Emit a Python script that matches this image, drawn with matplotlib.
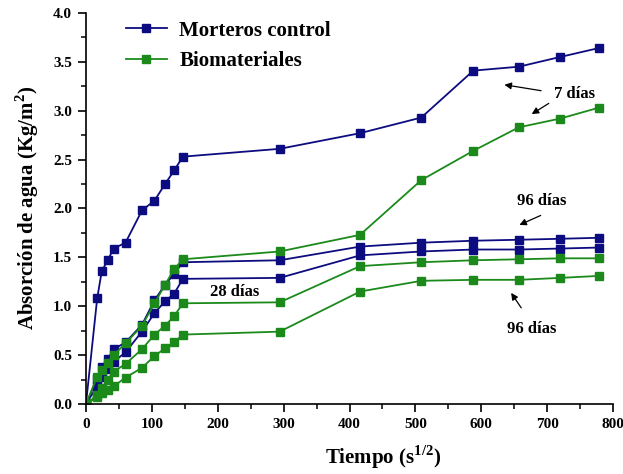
import matplotlib
matplotlib.use("Agg")
import matplotlib.pyplot as plt
from matplotlib.ticker import MultipleLocator, FormatStrFormatter

plt.rcParams["mathtext.fontset"] = "custom"
plt.rcParams["mathtext.rm"] = "Liberation Serif"
plt.rcParams["mathtext.bf"] = "Liberation Serif:bold"

# Square root of elapsed time (s^1/2)
tiempo = [0, 17, 24, 33, 42, 60, 85, 104, 120, 134, 147, 294, 416, 509, 588, 657, 720, 778]

# Water absorption (kg/m2), control mortars
mortero_7d = [0, 1.08, 1.36, 1.47, 1.59, 1.65, 1.98, 2.08, 2.25, 2.39, 2.53, 2.61, 2.77, 2.93, 3.41, 3.45, 3.55, 3.64]
mortero_96d = [0, 0.26, 0.38, 0.46, 0.56, 0.63, 0.81, 1.06, 1.22, 1.33, 1.45, 1.47, 1.61, 1.65, 1.67, 1.68, 1.69, 1.70]
mortero_28d = [0, 0.18, 0.28, 0.36, 0.43, 0.53, 0.74, 0.93, 1.05, 1.13, 1.28, 1.29, 1.52, 1.56, 1.58, 1.58, 1.59, 1.60]

# Water absorption (kg/m2), biomaterial mortars
bio_7d = [0, 0.28, 0.35, 0.42, 0.50, 0.62, 0.80, 1.03, 1.22, 1.38, 1.48, 1.56, 1.73, 2.29, 2.59, 2.83, 2.92, 3.03]
bio_28d = [0, 0.09, 0.16, 0.25, 0.33, 0.41, 0.56, 0.71, 0.80, 0.90, 1.03, 1.04, 1.41, 1.45, 1.47, 1.48, 1.49, 1.49]
bio_96d = [0, 0.07, 0.11, 0.14, 0.18, 0.27, 0.37, 0.49, 0.57, 0.63, 0.71, 0.74, 1.15, 1.26, 1.27, 1.27, 1.29, 1.31]

AZUL = "#0c0c80"
VERDE = "#1b8a1b"
serif = ["Liberation Serif", "DejaVu Serif"]

fig = plt.figure(figsize=(6.23, 4.74), dpi=100)
ax = fig.add_axes([0.138, 0.1477, 0.846, 0.825])

estilo = dict(marker="s", markersize=6, linewidth=1.3)
ax.plot(tiempo, mortero_7d, color=AZUL, label="Morteros control", **estilo)
ax.plot(tiempo, mortero_96d, color=AZUL, **estilo)
ax.plot(tiempo, mortero_28d, color=AZUL, **estilo)
ax.plot(tiempo, bio_7d, color=VERDE, label="Biomateriales", **estilo)
ax.plot(tiempo, bio_28d, color=VERDE, **estilo)
ax.plot(tiempo, bio_96d, color=VERDE, **estilo)

ax.set_xlim(0, 800)
ax.set_ylim(0, 4.0)
ax.xaxis.set_major_locator(MultipleLocator(100))
ax.xaxis.set_minor_locator(MultipleLocator(50))
ax.yaxis.set_major_locator(MultipleLocator(0.5))
ax.yaxis.set_minor_locator(MultipleLocator(0.25))
ax.yaxis.set_major_formatter(FormatStrFormatter("%.1f"))

for s in ("top", "right"):
    ax.spines[s].set_visible(False)
for s in ("left", "bottom"):
    ax.spines[s].set_linewidth(1.2)

ax.tick_params(which="major", direction="out", length=6, width=1.2, pad=4)
ax.tick_params(which="minor", direction="out", length=3.5, width=1.1)
for lab in ax.get_xticklabels() + ax.get_yticklabels():
    lab.set_fontfamily(serif)
    lab.set_fontweight("bold")
    lab.set_fontsize(11)

ax.set_xlabel(r"Tiempo (s$^{\mathbf{1/2}}$)", fontsize=15, fontweight="bold", family=serif)
ax.xaxis.set_label_coords(0.564, -0.1)
ax.set_ylabel(r"Absorción de agua (Kg/m$^{\mathbf{2}}$)", fontsize=15, fontweight="bold", family=serif)
ax.yaxis.set_label_coords(-0.085, 0.5)

leg = ax.legend(loc="upper left", bbox_to_anchor=(0.076, 0.98), frameon=False,
                borderpad=0, borderaxespad=0,
                handlelength=1.95, handletextpad=0.6, labelspacing=0.5,
                prop=dict(family=serif, weight="bold", size=15))

txt = dict(fontsize=12, fontweight="bold", family=serif, ha="center", va="center")
flecha = dict(arrowstyle="-|>", color="black", lw=0.9, mutation_scale=10)

ax.text(742, 3.17, "7 días", **txt)
ax.annotate("", xy=(631, 3.27), xytext=(695, 3.20), arrowprops=flecha)
ax.annotate("", xy=(673, 2.95), xytext=(706, 3.09), arrowprops=flecha)

ax.text(691, 2.08, "96 días", **txt)
ax.annotate("", xy=(654, 1.82), xytext=(694, 1.94), arrowprops=flecha)

ax.text(677, 0.77, "96 días", **txt)
ax.annotate("", xy=(643, 1.16), xytext=(663, 0.96), arrowprops=flecha)

ax.text(225, 1.15, "28 días", **txt)

fig.savefig("out.png", dpi=100)
